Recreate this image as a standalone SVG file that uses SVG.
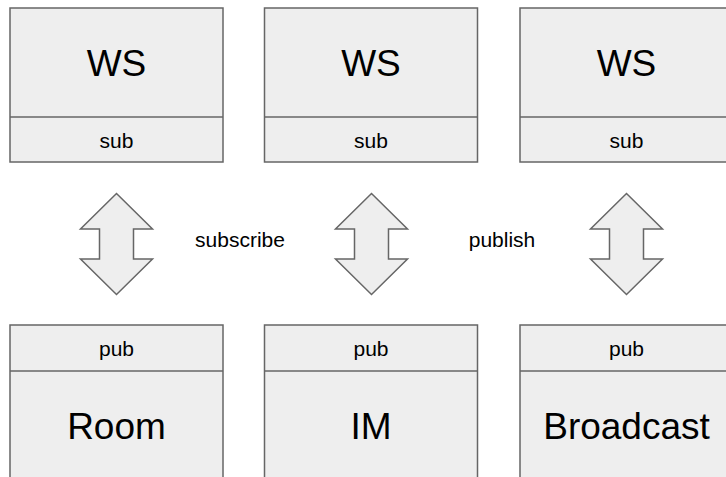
<svg xmlns="http://www.w3.org/2000/svg" width="726" height="477" viewBox="0 0 726 477">
  <style>
    .box { fill: #eeeeee; stroke: #666666; stroke-width: 1.5; }
    .div { stroke: #666666; stroke-width: 1.5; fill: none; }
    .arrow { fill: #eeeeee; stroke: #666666; stroke-width: 1.5; stroke-linejoin: miter; }
    text { font-family: "Liberation Sans", Arial, sans-serif; fill: #000000; text-anchor: middle; }
    .big { font-size: 37px; }
    .small { font-size: 21px; }
  </style>
  <defs>
    <polygon id="dbl-arrow" class="arrow" points="0,193.5 36,229 17,229 17,259 36,259 0,294.5 -36,259 -17,259 -17,229 -36,229"/>
  </defs>

  <!-- WebSocket subscribers -->
  <g id="ws1">
    <rect class="box" x="10" y="8" width="213" height="154"/>
    <line class="div" x1="10" y1="117" x2="223" y2="117"/>
    <text class="big" x="116.5" y="75.5">WS</text>
    <text class="small" x="116.5" y="147.5">sub</text>
  </g>
  <g id="ws2">
    <rect class="box" x="264.5" y="8" width="213" height="154"/>
    <line class="div" x1="264.5" y1="117" x2="477.5" y2="117"/>
    <text class="big" x="371" y="75.5">WS</text>
    <text class="small" x="371" y="147.5">sub</text>
  </g>
  <g id="ws3">
    <rect class="box" x="520" y="8" width="213" height="154"/>
    <line class="div" x1="520" y1="117" x2="733" y2="117"/>
    <text class="big" x="626.5" y="75.5">WS</text>
    <text class="small" x="626.5" y="147.5">sub</text>
  </g>

  <!-- Publishers -->
  <g id="room">
    <rect class="box" x="10" y="325" width="213" height="160"/>
    <line class="div" x1="10" y1="371" x2="223" y2="371"/>
    <text class="small" x="116.5" y="355.5">pub</text>
    <text class="big" x="116.5" y="438.5">Room</text>
  </g>
  <g id="im">
    <rect class="box" x="264.5" y="325" width="213" height="160"/>
    <line class="div" x1="264.5" y1="371" x2="477.5" y2="371"/>
    <text class="small" x="371" y="355.5">pub</text>
    <text class="big" x="371" y="438.5">IM</text>
  </g>
  <g id="broadcast">
    <rect class="box" x="520" y="325" width="213" height="160"/>
    <line class="div" x1="520" y1="371" x2="733" y2="371"/>
    <text class="small" x="626.5" y="355.5">pub</text>
    <text class="big" x="626.5" y="438.5">Broadcast</text>
  </g>

  <!-- Connectors -->
  <g id="connectors">
    <use href="#dbl-arrow" x="116.5"/>
    <use href="#dbl-arrow" x="371.5"/>
    <use href="#dbl-arrow" x="626.5"/>
    <text class="small" x="240" y="247">subscribe</text>
    <text class="small" x="502" y="247">publish</text>
  </g>
</svg>
